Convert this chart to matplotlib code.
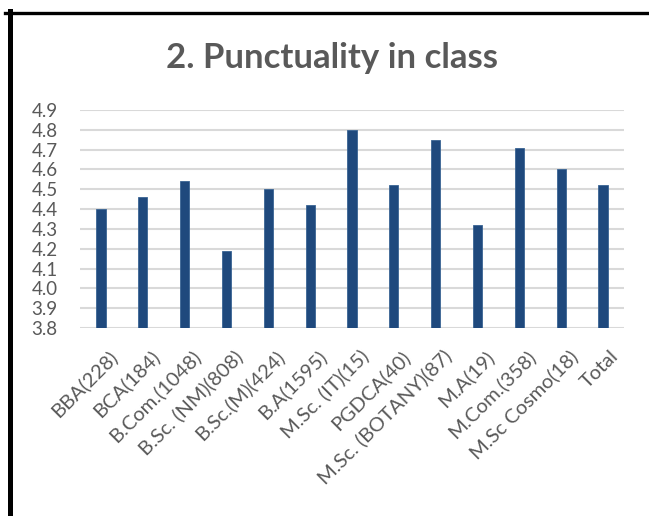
import numpy as np
import matplotlib
matplotlib.use("Agg")
from matplotlib import pyplot as plt
from matplotlib.lines import Line2D
from matplotlib.transforms import ScaledTranslation

# Data
courses = ['BBA(228)', 'BCA(184)', 'B.Com.(1048)', 'B.Sc. (NM)(808)', 'B.Sc.(M)(424)',
           'B.A(1595)', 'M.Sc. (IT)(15)', 'PGDCA(40)', 'M.Sc. (BOTANY)(87)', 'M.A(19)',
           'M.Com.(358)', 'M.Sc Cosmo(18)', 'Total']
scores = [4.40, 4.46, 4.54, 4.19, 4.50, 4.42, 4.80, 4.52, 4.75, 4.32, 4.71, 4.60, 4.52]
y_ticks = [3.8, 3.9, 4.0, 4.1, 4.2, 4.3, 4.4, 4.5, 4.6, 4.7, 4.8, 4.9]

plt.rcParams['font.family'] = ['Lato', 'DejaVu Sans']
grey = '#595959'


def draw_chart():
    fig = plt.figure(figsize=(6.49, 5.16), dpi=100)
    ax = fig.add_axes([80 / 649, 1 - 328 / 516, 544 / 649, 218 / 516])

    x = np.arange(len(courses))
    ax.bar(x, np.array(scores) - 3.8, bottom=3.8, width=0.22,
           color='#1f497d', edgecolor='#3a6494', linewidth=0.6, zorder=3)

    ax.set_xlim(-0.5, len(courses) - 0.5)
    ax.set_ylim(3.8, 4.9)
    ax.set_yticks(y_ticks)
    ax.set_yticklabels([f'{v:.1f}' for v in y_ticks])
    ax.yaxis.grid(True, color='#d9d9d9', linewidth=1.5, zorder=0)
    ax.tick_params(axis='y', length=0, pad=16, labelsize=13.5, labelcolor=grey)
    ax.tick_params(axis='x', length=0, pad=0, labelsize=14.5, labelcolor=grey)
    ax.set_xticks(x)
    ax.set_xticklabels(courses, rotation=45, ha='right', va='top', rotation_mode='anchor')
    # Excel puts the end of the slanted label a bit right of and below the tick
    shift = ScaledTranslation(0.07, -0.19, fig.dpi_scale_trans)
    for lab in ax.get_xticklabels():
        lab.set_transform(lab.get_transform() + shift)

    for s in ax.spines.values():
        s.set_visible(False)

    fig.text(332 / 649, 1 - 58 / 516, '2. Punctuality in class', ha='center', va='center',
             fontsize=25, fontweight='bold', color=grey)

    # black frame on top and left like the cropped screenshot
    fig.add_artist(Line2D([5 / 649, 1], [1 - 12.5 / 516] * 2, color='black', linewidth=2.4))
    fig.add_artist(Line2D([9.5 / 649] * 2, [0, 1 - 11 / 516], color='black', linewidth=3.6))

    fig.savefig('out.png', dpi=100)


if __name__ == '__main__':
    draw_chart()
